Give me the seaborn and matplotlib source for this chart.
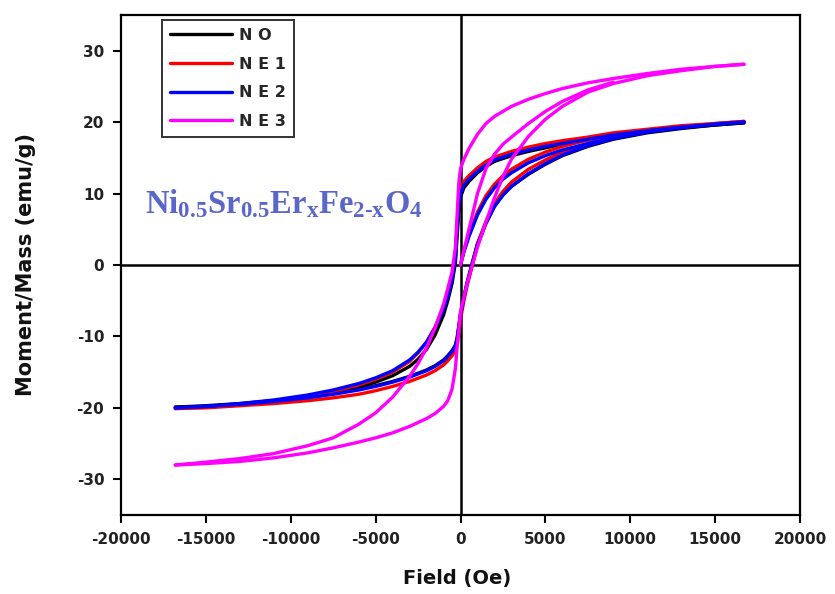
import matplotlib
matplotlib.use("Agg")
import matplotlib.pyplot as plt
import seaborn as sns
import pandas as pd

# Applied field grids (Oe) for each sweep
H_DOWN = [16700, 15000, 13000, 11000, 9000, 7500, 6000, 5000, 4000, 3000, 2000, 1500,
          1000, 500, 200, 0, -100, -200, -300, -500, -750, -1000, -1500, -2000, -2500,
          -3000, -4000, -5000, -6000, -7500, -9000, -11000, -13000, -15000, -16800]
H_UP = [-16800, -15000, -13000, -11000, -9000, -7500, -6000, -5000, -4000, -3000, -2000,
        -1500, -1000, -750, -500, -300, -200, 0, 200, 400, 700, 1000, 1500, 2000, 2500,
        3000, 4000, 5000, 6000, 7500, 9000, 11000, 13000, 15000, 16700]
H_VIRGIN = [0, 200, 500, 1000, 1500, 2000, 2500, 3000, 4000, 5000, 6000, 7500, 9000]

# Moment per mass (emu/g) on the decreasing-field sweep
NO_DOWN = [19.9, 19.6, 19.2, 18.7, 18.1, 17.5, 16.9, 16.4, 15.9, 15.3, 14.5, 13.8, 12.9,
           11.7, 10.8, 9.5, 7.5, 4.0, 0.3, -2.6, -5.0, -7.0, -9.8, -11.8, -13.2, -14.2,
           -15.5, -16.4, -17.1, -17.9, -18.5, -19.1, -19.5, -19.8, -19.9]
NE1_DOWN = [20.1, 19.8, 19.5, 19.0, 18.5, 17.9, 17.4, 17.0, 16.5, 15.9, 15.1, 14.5, 13.6,
            12.5, 11.7, 10.6, 9.0, 5.5, 1.3, -1.8, -4.2, -6.0, -8.7, -10.8, -12.3, -13.5,
            -15.0, -16.0, -16.8, -17.7, -18.4, -19.1, -19.6, -19.9, -20.1]
NE2_DOWN = [20.0, 19.7, 19.3, 18.8, 18.2, 17.6, 17.0, 16.6, 16.1, 15.5, 14.7, 14.0, 13.1,
            12.0, 11.2, 10.0, 8.5, 5.0, 1.0, -2.0, -4.4, -6.2, -8.8, -10.8, -12.2, -13.3,
            -14.8, -15.8, -16.6, -17.5, -18.2, -18.9, -19.4, -19.8, -20.0]
NE3_DOWN = [28.1, 27.8, 27.4, 26.8, 26.1, 25.5, 24.7, 24.0, 23.2, 22.2, 20.8, 19.8, 18.3,
            16.3, 14.8, 13.5, 11.5, 7.0, 2.5, -1.0, -3.3, -5.5, -8.8, -11.6, -13.8, -15.6,
            -18.5, -20.7, -22.3, -24.2, -25.3, -26.4, -27.1, -27.6, -28.0]

# Moment per mass (emu/g) on the increasing-field sweep
NO_UP = [-19.9, -19.7, -19.4, -19.0, -18.5, -18.0, -17.4, -16.9, -16.3, -15.6, -14.7,
         -14.1, -13.3, -12.7, -12.0, -11.2, -10.2, -6.8, -4.4, -2.3, 0.4, 3.0, 5.9, 8.2,
         9.8, 11.0, 12.7, 14.1, 15.3, 16.6, 17.6, 18.5, 19.1, 19.6, 19.9]
NE1_UP = [-20.1, -20.0, -19.7, -19.4, -19.0, -18.6, -18.1, -17.6, -17.0, -16.3, -15.4,
          -14.8, -14.0, -13.4, -12.7, -12.0, -11.2, -7.6, -5.0, -2.8, 0.0, 2.9, 6.1, 8.6,
          10.3, 11.6, 13.4, 14.7, 15.8, 17.0, 17.9, 18.7, 19.3, 19.8, 20.1]
NE2_UP = [-20.0, -19.8, -19.5, -19.1, -18.6, -18.1, -17.5, -17.0, -16.4, -15.7, -14.8,
          -14.2, -13.4, -12.8, -12.1, -11.3, -10.4, -7.0, -4.6, -2.5, 0.2, 2.8, 5.8, 8.2,
          9.8, 11.0, 12.8, 14.2, 15.4, 16.7, 17.7, 18.6, 19.2, 19.7, 20.0]
NE3_UP = [-28.0, -27.8, -27.5, -27.0, -26.3, -25.6, -24.8, -24.2, -23.5, -22.6, -21.5,
          -20.8, -19.8, -19.0, -17.4, -14.5, -11.5, -6.5, -4.5, -2.5, 0.0, 2.5, 6.0, 9.4,
          12.4, 14.8, 18.0, 20.4, 22.2, 24.2, 25.4, 26.5, 27.2, 27.8, 28.1]

# Initial magnetization curves (emu/g)
NE1_VIRGIN = [0.0, 2.0, 4.3, 7.4, 9.7, 11.3, 12.5, 13.4, 14.8, 15.8, 16.6, 17.5, 18.2]
NE2_VIRGIN = [0.0, 1.8, 4.0, 7.0, 9.2, 10.8, 12.0, 12.9, 14.3, 15.3, 16.1, 17.0, 17.8]
NE3_VIRGIN = [0.0, 2.0, 5.0, 10.0, 13.5, 15.5, 16.9, 17.9, 19.8, 21.5, 22.9, 24.5, 25.6]

SAMPLES = ["NO", "NE1", "NE2", "NE3"]
LABELS = ["N O", "N E 1", "N E 2", "N E 3"]
COLORS = ["#000000", "#ff0000", "#0000ff", "#ff00ff"]

X_TICKS = [-20000, -15000, -10000, -5000, 0, 5000, 10000, 15000, 20000]
Y_TICKS = [-30, -20, -10, 0, 10, 20, 30]

branches = {
    "NO": [("down", H_DOWN, NO_DOWN), ("up", H_UP, NO_UP)],
    "NE1": [("down", H_DOWN, NE1_DOWN), ("up", H_UP, NE1_UP), ("virgin", H_VIRGIN, NE1_VIRGIN)],
    "NE2": [("down", H_DOWN, NE2_DOWN), ("up", H_UP, NE2_UP), ("virgin", H_VIRGIN, NE2_VIRGIN)],
    "NE3": [("down", H_DOWN, NE3_DOWN), ("up", H_UP, NE3_UP), ("virgin", H_VIRGIN, NE3_VIRGIN)],
}

rows = []
for s in SAMPLES:
    for name, hs, ms in branches[s]:
        for h, m in zip(hs, ms):
            rows.append({"field": h, "moment": m, "sample": s, "branch": name})
df = pd.DataFrame(rows)

sns.set_theme(style="white")
plt.rcParams["font.family"] = ["DejaVu Sans"]
plt.rcParams["mathtext.fontset"] = "custom"
plt.rcParams["mathtext.rm"] = "Liberation Serif:bold"
plt.rcParams["mathtext.bf"] = "Liberation Serif:bold"
plt.rcParams["mathtext.it"] = "Liberation Serif:bold"

fig = plt.figure(figsize=(8.35, 5.94), dpi=100)
ax = fig.add_axes([0.1449, 0.1330, 0.8132, 0.8418])

sns.lineplot(data=df, x="field", y="moment", hue="sample", hue_order=SAMPLES,
             palette=COLORS, units="branch", estimator=None, sort=False,
             linewidth=2.4, ax=ax, legend=True)

# Zero reference lines through the origin
ax.axhline(0, color="black", lw=1.8, zorder=0.5)
ax.axvline(0, color="black", lw=1.8, zorder=0.5)

ax.set_xlim(-20000, 20000)
ax.set_ylim(-35, 35)
ax.set_xticks(X_TICKS)
ax.set_yticks(Y_TICKS)
ax.set_xticklabels([str(t) for t in X_TICKS])
ax.set_yticklabels([str(t) for t in Y_TICKS])

for sp in ax.spines.values():
    sp.set_visible(True)
    sp.set_color("black")
    sp.set_linewidth(1.6)

ax.tick_params(axis="both", which="major", direction="out", length=6, width=1.5,
               color="black", labelsize=11, labelcolor="#222222", pad=6,
               bottom=True, left=True, top=False, right=False)
for lab in ax.get_xticklabels() + ax.get_yticklabels():
    lab.set_fontweight("bold")

ax.set_xlabel("Field (Oe)", fontsize=14, fontweight="bold", color="#111111", va="center")
ax.set_ylabel("Moment/Mass (emu/g)", fontsize=15, fontweight="bold", color="#111111", va="center")
ax.xaxis.set_label_coords(0.495, -0.126)
ax.yaxis.set_label_coords(-0.14, 0.5)

handles, _ = ax.get_legend_handles_labels()
leg = ax.legend(handles[:4], LABELS, loc="upper left", bbox_to_anchor=(0.0604, 0.99),
                borderaxespad=0.0, frameon=True, fancybox=False, edgecolor="black",
                handlelength=3.9, handletextpad=0.45, labelspacing=0.85, borderpad=0.5,
                prop={"family": "DejaVu Sans", "weight": "bold", "size": 11.5})
leg.get_frame().set_linewidth(1.4)
for line in leg.get_lines():
    line.set_linewidth(2.4)

ax.text(-18600, 7.3, r"$\mathrm{Ni_{0.5}Sr_{0.5}Er_{x}Fe_{2\text{-}x}O_{4}}$",
        color="#5a67c8", fontsize=23.5, ha="left", va="baseline")

fig.savefig("out.png", dpi=100)
